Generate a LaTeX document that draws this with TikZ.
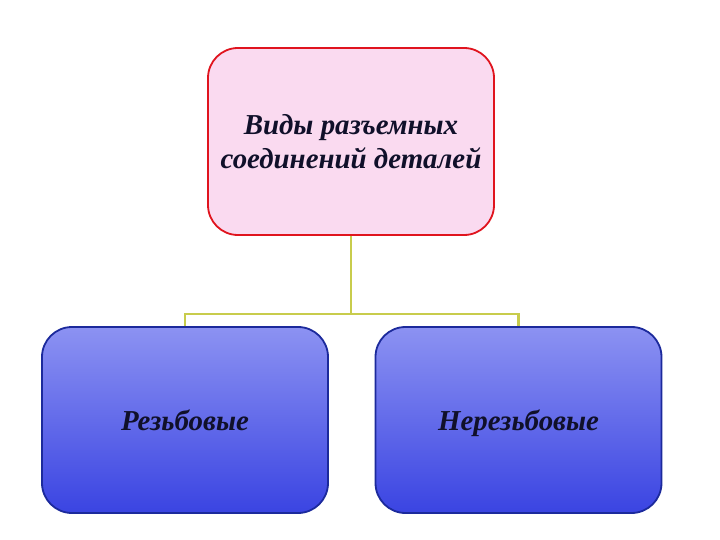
\documentclass[tikz,border=0pt]{standalone}
\usepackage{fontspec}
\setmainfont{Liberation Serif}
\definecolor{topfill}{HTML}{FADAF0}
\definecolor{topdraw}{HTML}{E0141E}
\definecolor{botdraw}{HTML}{1C2A9C}
\definecolor{gradtop}{HTML}{8C92F2}
\definecolor{gradbot}{HTML}{3A44E2}
\definecolor{linkcol}{HTML}{C8CC4C}
\definecolor{textcol}{HTML}{10102A}
\tikzset{
  topbox/.style={draw=topdraw, fill=topfill, line width=1.8bp, rounded corners=30bp,
    minimum width=286bp, minimum height=187bp, inner sep=0pt, align=center,
    font=\fontsize{29}{34}\selectfont\bfseries\itshape, text=textcol},
  botbox/.style={draw=botdraw, top color=gradtop, bottom color=gradbot, line width=1.8bp,
    rounded corners=30bp, minimum width=286bp, minimum height=186bp, inner sep=0pt,
    text height=26bp, text depth=6bp,
    align=center, font=\fontsize{29}{34}\selectfont\bfseries\itshape, text=textcol},
  link/.style={draw=linkcol, line width=2.6bp}
}
\begin{document}
\begin{tikzpicture}[x=1bp,y=-1bp]
\useasboundingbox (0,0) rectangle (720,540);
\fill[white] (0,0) rectangle (720,540);
\node[topbox] (root) at (351,141.5) {Виды разъемных\\соединений деталей};
\node[botbox] (left) at (185,420) {Резьбовые};
\node[botbox] (right) at (518.5,420) {Нерезьбовые};
\coordinate (mid) at (351,314);
\draw[link] (root.south) -- (mid) -| (left.north);
\draw[link] (mid) -| (right.north);
\end{tikzpicture}
\end{document}
